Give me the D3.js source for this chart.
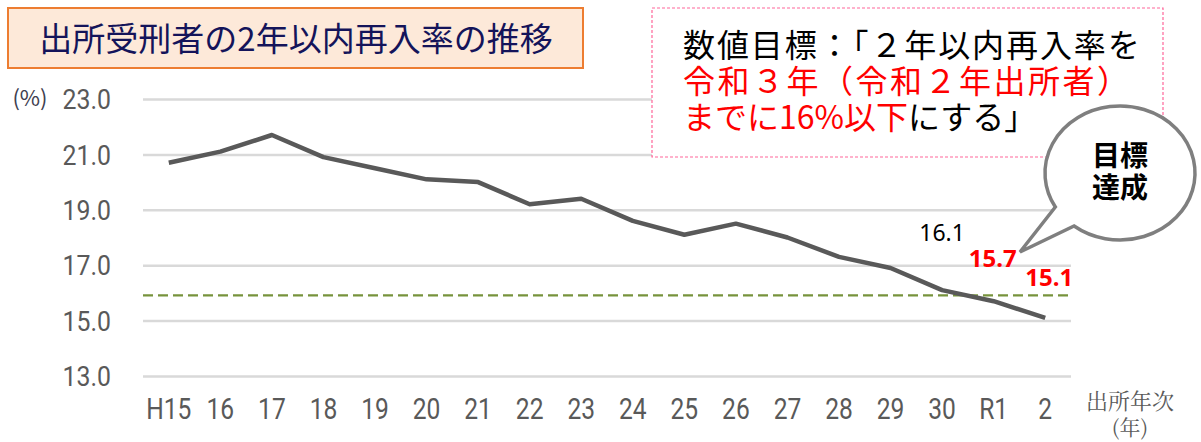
<!DOCTYPE html>
<html><head><meta charset="utf-8">
<script src="https://cdn.jsdelivr.net/npm/d3@7"></script>
<style>
body{margin:0;background:#fff;}
svg{display:block;}
</style></head>
<body>
<svg id="c" width="1201" height="442"></svg>
<script>
const categories = ["H15","16","17","18","19","20","21","22","23","24","25","26","27","28","29","30","R1","2"];
const rates = [20.7,21.1,21.7,20.9,20.5,20.1,20.0,19.2,19.4,18.6,18.1,18.5,18.0,17.3,16.9,16.1,15.7,15.1];
const yTicks = [13,15,17,19,21,23];
const targetValue = 16;
const title = "出所受刑者の2年以内再入率の推移";

const svg = d3.select("#c");
const x = d3.scaleBand().domain(categories).range([143,1071]);
const y = d3.scaleLinear().domain([13,23]).range([376,99]);
const cx = d => x(d) + x.bandwidth()/2;

// gridlines
const grid = svg.append("g").attr("transform","translate(143,0)")
  .call(d3.axisLeft(y).tickValues(yTicks).tickSize(-(1071-143)).tickFormat(""));
grid.select(".domain").remove();
grid.selectAll("line").attr("stroke","#d9d9d9").attr("stroke-width",2.5);

// y labels
const yl = svg.append("g").attr("transform","translate(111,0)")
  .call(d3.axisLeft(y).tickValues(yTicks).tickSize(0).tickPadding(0).tickFormat(d3.format(".1f")));
yl.select(".domain").remove();
yl.selectAll("text").attr("font-family","Roboto, sans-serif").attr("font-size",27)
  .attr("fill","#595959").attr("dy","0.36em").attr("transform","scale(0.92,1)");

// x labels
const xl = svg.append("g").attr("transform","translate(0,388)")
  .call(d3.axisBottom(x).tickSize(0).tickPadding(0));
xl.select(".domain").remove();
xl.selectAll("text").attr("font-family","Roboto, sans-serif").attr("font-size",30)
  .attr("fill","#595959").attr("dy","1.05em").attr("transform","scale(0.82,1)");

// target line
svg.append("line").attr("x1",143).attr("x2",1071).attr("y1",y(targetValue)+2.5).attr("y2",y(targetValue)+2.5)
  .attr("stroke","#77933c").attr("stroke-width",2.4).attr("stroke-dasharray","10,5");

// data line
svg.append("path").datum(rates)
  .attr("d", d3.line().x((d,i)=>cx(categories[i])).y(d=>y(d)))
  .attr("fill","none").attr("stroke","#595959").attr("stroke-width",4.5).attr("stroke-linejoin","round");

// unit labels
const serif = "'Noto Serif CJK JP','Noto Sans CJK JP', serif";
svg.append("text").attr("x",30).attr("y",106).attr("text-anchor","middle")
  .attr("font-family","'Noto Sans CJK JP'").attr("font-size",22).attr("fill","#404050").text("(%)");
svg.append("text").attr("x",1130).attr("y",409).attr("text-anchor","middle")
  .attr("font-family",serif).attr("font-size",22).attr("fill","#595959").text("出所年次");
svg.append("text").attr("x",1130).attr("y",435).attr("text-anchor","middle")
  .attr("font-family",serif).attr("font-size",21).attr("fill","#595959").text("(年)");

// value labels
const lab = [
  {i:15, dx:0, dy:-49, c:"#000", w:"normal", s:23},
  {i:16, dx:-1, dy:-34, c:"#ff0000", w:"bold", s:24},
  {i:17, dx:4, dy:-32, c:"#ff0000", w:"bold", s:24}
];
lab.forEach(l=>{
  svg.append("text").attr("x",cx(categories[l.i])+l.dx).attr("y",y(rates[l.i])+l.dy)
    .attr("text-anchor","middle").attr("font-family","'Noto Sans', sans-serif")
    .attr("font-size",l.s).attr("font-weight",l.w).attr("fill",l.c).text(rates[l.i].toFixed(1));
});

// title box
svg.append("rect").attr("x",8).attr("y",8).attr("width",575).attr("height",60)
  .attr("fill","#fde9d9").attr("stroke","#ed7d31").attr("stroke-width",2);
svg.append("text").attr("x",296).attr("y",51).attr("text-anchor","middle")
  .attr("font-family","'Noto Sans CJK JP'").attr("font-size",33).attr("fill","#14145a").text(title);

// target box
svg.append("rect").attr("x",652).attr("y",8).attr("width",511).attr("height",149)
  .attr("fill","#fff").attr("stroke","#ff6699").attr("stroke-width",1.2).attr("stroke-dasharray","3,2");
const tf = "'Noto Sans CJK JP'";
const tt = svg.append("text").attr("x",683).attr("y",57).attr("font-family",tf).attr("font-size",32);
tt.append("tspan").attr("x",683).attr("y",57).attr("fill","#000").attr("letter-spacing",1.9)
  .text("数値目標：「２年以内再入率を");
tt.append("tspan").attr("x",683).attr("y",93).attr("fill","#ff0000").attr("letter-spacing",2.5)
  .text("令和３年（令和２年出所者）");
tt.append("tspan").attr("x",683).attr("y",129).attr("fill","#ff0000").text("までに16%以下");
tt.append("tspan").attr("fill","#000").text("にする」");

// bubble
const bx=1120, by=173, rx=75, ry=67;
const a1 = 2.61, a2 = 2.23; // angles for tail base
const p1 = [bx+rx*Math.cos(a1), by+ry*Math.sin(a1)];
const p2 = [bx+rx*Math.cos(a2), by+ry*Math.sin(a2)];
const tip = [1020,252];
svg.append("path")
  .attr("d",`M${p1[0]},${p1[1]} A${rx},${ry} 0 1 1 ${p2[0]},${p2[1]} L${tip[0]},${tip[1]} Z`)
  .attr("fill","#fff").attr("stroke","#7f7f7f").attr("stroke-width",3.5).attr("stroke-linejoin","miter");
svg.append("text").attr("x",bx).attr("y",166).attr("text-anchor","middle").attr("font-family",tf)
  .attr("font-size",28).attr("font-weight","bold").attr("fill","#000").text("目標");
svg.append("text").attr("x",bx).attr("y",198).attr("text-anchor","middle").attr("font-family",tf)
  .attr("font-size",28).attr("font-weight","bold").attr("fill","#000").text("達成");
</script>
</body></html>
